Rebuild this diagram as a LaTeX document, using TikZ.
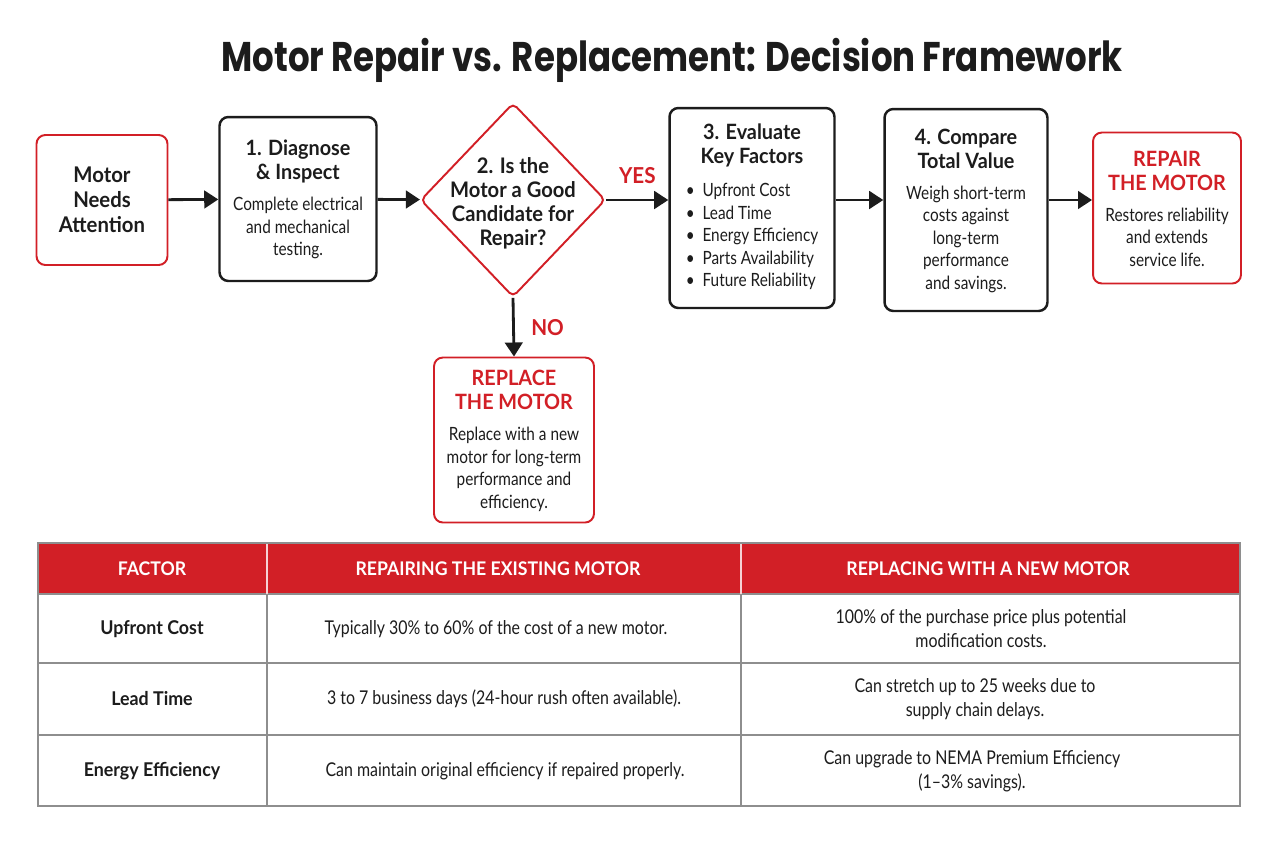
\documentclass[tikz,border=0pt]{standalone}
\usepackage{fontspec}
\usepackage{array}
\setmainfont{Lato}[FakeStretch=0.84]
\newfontfamily\headfont{Lato}[FakeStretch=0.94]
\newfontfamily\titlefont{Poppins}[FakeStretch=0.82]
\usetikzlibrary{arrows.meta,positioning,shapes.geometric,calc}
\definecolor{AlertRed}{HTML}{D21F26}
\definecolor{InkBlack}{HTML}{1C1C1C}
\definecolor{GridGray}{HTML}{8E8E8E}
\newcommand{\headsize}{\fontsize{12}{13.6}\selectfont}
\newcommand{\bodysize}{\fontsize{10.4}{12.8}\selectfont}
\newcommand{\tablesize}{\fontsize{10.8}{13.6}\selectfont}
\newcommand{\stephead}[1]{{\headfont\headsize\bfseries\begin{tabular}{@{}>{\headfont\headsize\bfseries}c@{}}#1\end{tabular}}}
\newcommand{\outcomehead}[1]{{\headfont\headsize\bfseries\begin{tabular}{@{}>{\headfont\headsize\bfseries\color{AlertRed}}c@{}}#1\end{tabular}}}
\tikzset{
  startbox/.style={rounded corners=5pt, draw=AlertRed, line width=1.1pt, fill=white, align=center, inner sep=2pt, font=\headfont\fontsize{12.3}{14.2}\selectfont\bfseries, text=InkBlack},
  stepbox/.style={rounded corners=5pt, draw=InkBlack, line width=1.4pt, fill=white, align=center, inner sep=2pt, font=\bodysize, text=InkBlack},
  outcomebox/.style={rounded corners=5pt, draw=AlertRed, line width=1.1pt, fill=white, align=center, inner sep=2pt, font=\bodysize, text=InkBlack},
  decision/.style={diamond, draw=AlertRed, line width=1.1pt, rounded corners=3pt, fill=white, minimum width=3.7cm, minimum height=3.88cm, inner sep=0pt},
  decisiontext/.style={align=center, font=\headfont\fontsize{12.2}{13.6}\selectfont\bfseries, text=InkBlack},
  flow/.style={-{Triangle[length=8pt,width=10pt]}, line width=1.6pt, draw=InkBlack},
  answer/.style={font=\headfont\fontsize{12.5}{14}\selectfont\bfseries, text=AlertRed},
  gridline/.style={draw=GridGray, line width=0.8pt},
  headcell/.style={font=\headfont\fontsize{10.7}{13}\selectfont\bfseries, text=white},
  factorcell/.style={font=\headfont\fontsize{10.8}{13}\selectfont\bfseries, text=InkBlack},
  bodycell/.style={font=\tablesize, text=InkBlack, align=center}
}
\begin{document}
\begin{tikzpicture}[x=0.02cm, y=-0.02cm]
    \useasboundingbox[fill=white] (0,0) rectangle (1280,846);
    \node[font=\titlefont\fontsize{23.6}{26}\selectfont\bfseries, text=InkBlack] (title) at (672,60) {Motor Repair vs. Replacement: Decision Framework};

    % flow chart
    \node[startbox, minimum width=2.62cm, minimum height=2.6cm] (start) at (102,200) {Motor\\Needs\\Attention};
    \node[stepbox, minimum width=3.14cm, minimum height=3.28cm] (diagnose) at (298,199) {\stephead{1. Diagnose\\\& Inspect}\\[5pt]Complete electrical\\and mechanical\\testing.};
    \node[decision] (cand) at (513,200) {};
    \node[decisiontext] (candtext) at (513,203) {2. Is the\\Motor a Good\\Candidate for\\Repair?};
    \node[stepbox, minimum width=3.3cm, minimum height=4cm] (evaluate) at (752,208) {\stephead{3. Evaluate\\Key Factors}\\[5pt]\begin{tabular}{@{}l@{}}\textbullet~~Upfront Cost\\\textbullet~~Lead Time\\\textbullet~~Energy Efficiency\\\textbullet~~Parts Availability\\\textbullet~~Future Reliability\end{tabular}};
    \node[stepbox, minimum width=3.26cm, minimum height=4.04cm] (compare) at (966,210) {\stephead{4. Compare\\Total Value}\\[5pt]Weigh short-term\\costs against\\long-term\\performance\\and savings.};
    \node[outcomebox, minimum width=2.96cm, minimum height=3.02cm] (repair) at (1167,208) {\outcomehead{REPAIR\\THE MOTOR}\\[5pt]Restores reliability\\and extends\\service life.};
    \node[outcomebox, minimum width=3.2cm, minimum height=3.3cm] (replace) at (514,440) {\outcomehead{REPLACE\\THE MOTOR}\\[5pt]Replace with a new\\motor for long-term\\performance and\\efficiency.};

    \draw[flow] (start) -- (diagnose);
    \draw[flow] (diagnose) -- (cand);
    \draw[flow] (cand.east) -- (cand.east -| evaluate.west) node[answer, midway, above=5pt] (yes) {YES};
    \draw[flow] (evaluate.east |- cand.east) -- (cand.east -| compare.west);
    \draw[flow] (compare.east |- cand.east) -- (cand.east -| repair.west);
    \draw[flow] (cand.south) -- (replace.north) node[answer, midway, right=6pt] (no) {NO};

    % comparison table
    \fill[AlertRed] (38,543) rectangle (1240,594);
    \foreach \y in {594,663,735}
      \draw[gridline] (38,\y) -- (1240,\y);
    \foreach \x in {267,741} {
      \draw[gridline] (\x,594) -- (\x,806);
      \draw[white!80!AlertRed, line width=0.8pt] (\x,543) -- (\x,594);
    }
    \draw[gridline] (38,543) rectangle (1240,806);

    \node[headcell] (hfactor) at (152,569) {FACTOR};
    \node[headcell] (hrepair) at (498,569) {REPAIRING THE EXISTING MOTOR};
    \node[headcell] (hreplace) at (988,569) {REPLACING WITH A NEW MOTOR};

    \node[factorcell] (fcost) at (152,629) {Upfront Cost};
    \node[factorcell] (ftime) at (152,699) {Lead Time};
    \node[factorcell] (feff) at (152,771) {Energy Efficiency};

    \node[bodycell] (rcost) at (496,629) {Typically 30\% to 60\% of the cost of a new motor.};
    \node[bodycell] (rtime) at (504,699) {3 to 7 business days (24-hour rush often available).};
    \node[bodycell] (reff) at (505,771) {Can maintain original efficiency if repaired properly.};

    \node[bodycell] (ncost) at (981,629) {100\% of the purchase price plus potential\\modification costs.};
    \node[bodycell] (ntime) at (975,699) {Can stretch up to 25 weeks due to\\supply chain delays.};
    \node[bodycell] (neff) at (972,771) {Can upgrade to NEMA Premium Efficiency\\(1–3\% savings).};
\end{tikzpicture}
\end{document}
